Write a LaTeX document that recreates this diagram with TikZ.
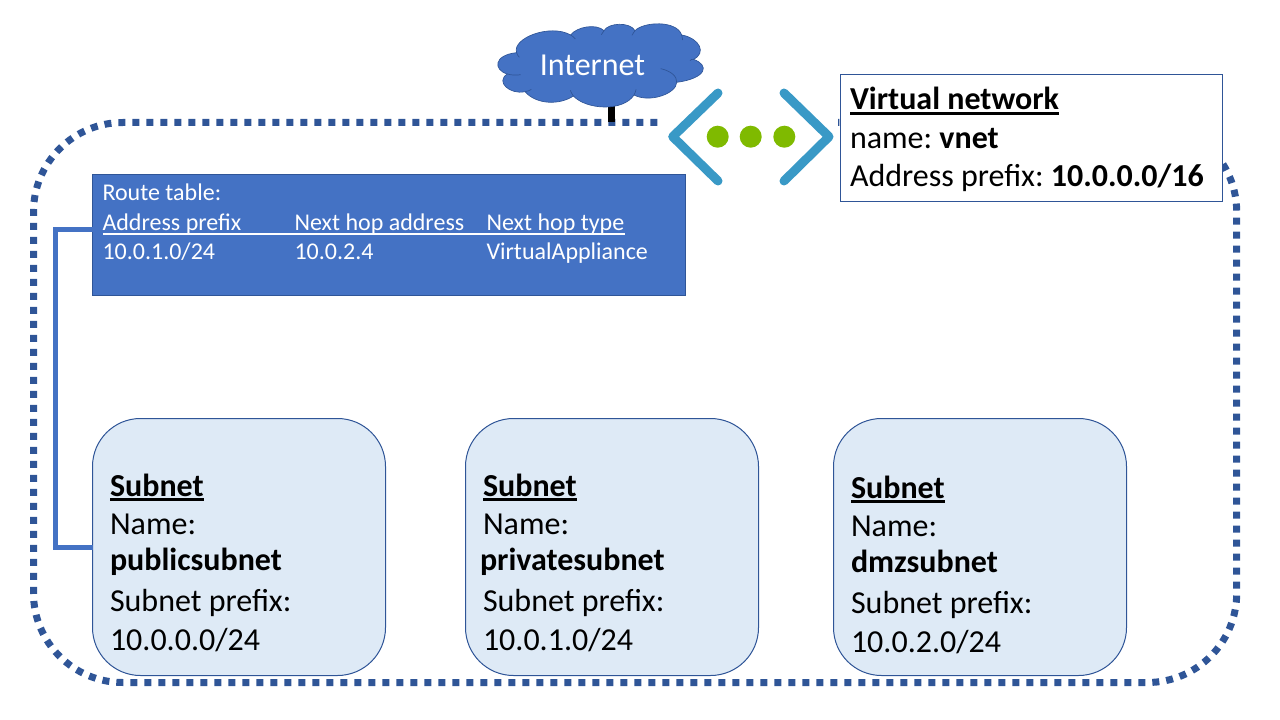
\documentclass[tikz,border=0pt]{standalone}
\usepackage{fontspec}
\setmainfont{Carlito}
\frenchspacing
\definecolor{bluefill}{HTML}{4472C4}
\definecolor{darkblue}{HTML}{2F5597}
\definecolor{subfill}{HTML}{DEEAF6}
\definecolor{iconblue}{HTML}{3999C6}
\definecolor{icongreen}{HTML}{7FBA00}
\newcommand{\ulbox}[1]{\setbox0=\hbox{#1}\rlap{\rule[-3.4pt]{\wd0}{1.6pt}}\box0}
\tikzset{
  every node/.append style={outer sep=0pt},
  big/.style={font=\fontsize{24}{28}\selectfont, anchor=base west, inner sep=0pt, text=black},
  small/.style={font=\fontsize{18}{22}\selectfont, anchor=base west, inner sep=0pt, text=white},
  subnetbox/.style={draw=darkblue, line width=0.75pt, fill=subfill, rounded corners=36pt, minimum width=219.75pt, minimum height=192.75pt, anchor=north west, inner sep=0pt},
  vnetdots/.style={draw=darkblue, line width=5.25pt, dash pattern=on 5.25pt off 5.25pt, rounded corners=67pt, minimum width=902.4pt, minimum height=420pt, anchor=north west, inner sep=0pt},
  linkline/.style={draw=bluefill, line width=3.75pt},
  chevron/.style={draw=iconblue, line width=6.75pt, line cap=round, line join=round},
  icondot/.style={circle, fill=icongreen, minimum size=16.5pt, inner sep=0pt},
  cloudarc/.style={draw=darkblue, line width=0.5pt},
}
\begin{document}
\begin{tikzpicture}[x=0.75pt,y=-0.75pt]
\useasboundingbox (0,0) rectangle (1280,720);
% dotted virtual network boundary
\node[vnetdots] (vnetarea) at (33.5,122.5) {};

% link from cloud
\coordinate (cloudfoot) at (611.3,100);
\draw[line width=5pt,black] (cloudfoot) -- (cloudfoot |- vnetarea.north);

% cloud
\begin{scope}[shift={(480,10)},x=0.25pt,y=-0.25pt]
\path[fill=bluefill,draw=darkblue,line width=0.5pt]
 (110,128) .. controls (95,85) and (210,40) .. (272,75)
 .. controls (290,50) and (350,40) .. (372,62)
 .. controls (385,38) and (450,35) .. (465,62)
 .. controls (490,35) and (590,30) .. (605,75)
 .. controls (660,85) and (680,130) .. (640,148)
 .. controls (690,165) and (680,205) .. (590,217)
 .. controls (590,250) and (510,280) .. (462,255)
 .. controls (430,305) and (320,300) .. (280,258)
 .. controls (240,285) and (170,285) .. (135,245)
 .. controls (90,255) and (45,215) .. (82,192)
 .. controls (40,180) and (40,135) .. (110,128) -- cycle;
\draw[cloudarc] (82,192) .. controls (95,196) and (110,196) .. (122,194);
\draw[cloudarc] (135,245) .. controls (142,244) and (148,242) .. (154,238);
\draw[cloudarc] (280,258) .. controls (276,252) and (273,247) .. (271,241);
\draw[cloudarc] (462,255) .. controls (465,250) and (467,245) .. (468,238);
\draw[cloudarc] (542,176) .. controls (570,182) and (592,198) .. (590,217);
\draw[cloudarc] (640,148) .. controls (636,146) and (632,150) .. (630,152);
\draw[cloudarc] (605,75) .. controls (607,80) and (608,85) .. (608,90);
\draw[cloudarc] (465,62) .. controls (462,67) and (458,71) .. (456,76);
\draw[cloudarc] (372,62) .. controls (369,66) and (366,70) .. (364,74);
\draw[cloudarc] (272,75) .. controls (277,78) and (282,82) .. (286,87);
\draw[cloudarc] (110,128) .. controls (111,133) and (114,138) .. (118,142);
\end{scope}
\node[font=\fontsize{24}{28}\selectfont, text=white, inner sep=0pt, anchor=base] (internet) at (592.5,75.5) {Internet};

% network icon
\fill[white] (664,105) rectangle (838,190);
\draw[chevron] (718,93) -- (672.7,136.7) -- (718,181);
\draw[chevron] (784,93) -- (829,136.7) -- (784,181);
\node[icondot] (dota) at (717.7,136.7) {};
\node[icondot] (dotb) at (750.7,136.7) {};
\node[icondot] (dotc) at (784.3,136.7) {};

% virtual network box
\node[draw=darkblue, line width=0.75pt, fill=white, minimum width=286.5pt, minimum height=95.25pt, anchor=north west, inner sep=0pt] (vnetbox) at (840.5,74.5) {};
\node[big] (vn1) at (850,110) {\ulbox{\textbf{Virtual network}}};
\node[big] (vn2) at (850,149) {name: \textbf{vnet}};
\node[big] (vn3) at (850,187) {Address prefix: \textbf{10.0.0.0/16}};

% route table
\node[draw=darkblue, line width=0.75pt, fill=bluefill, minimum width=444.75pt, minimum height=90.75pt, anchor=north west, inner sep=0pt] (route) at (92.5,174.5) {};
\node[small] (rt0) at (102.5,201) {Route table:};
\node[small] (rt1) at (102.5,230) {Address prefix};
\node[small] (rt2) at (294.5,230) {Next hop address};
\node[small] (rt3) at (486.5,230) {Next hop type};
\node[small] (rt4) at (102.5,259) {10.0.1.0/24};
\node[small] (rt5) at (294.5,259) {10.0.2.4};
\node[small] (rt6) at (486.5,259) {VirtualAppliance};
\coordinate (rulea) at (103,234);
\coordinate (ruleb) at (625,234);
\draw[white,line width=1.5pt] (rulea) -- (ruleb);

% subnets
\node[subnetbox] (pub) at (92.5,418.5) {};
\node[subnetbox] (priv) at (465.5,418.5) {};
\node[subnetbox] (dmz) at (833.5,418.5) {};

\node[big] (a1) at (110,496) {\ulbox{\textbf{Subnet}}};
\node[big] (a2) at (110,534) {Name:};
\node[big] (a3) at (110,570) {\textbf{publicsubnet}};
\node[big] (a4) at (110,611) {Subnet prefix:};
\node[big] (a5) at (110,650) {10.0.0.0/24};

\node[big] (b1) at (483,496) {\ulbox{\textbf{Subnet}}};
\node[big] (b2) at (483,534) {Name:};
\node[big] (b3) at (480,570) {\textbf{privatesubnet}};
\node[big] (b4) at (483,611) {Subnet prefix:};
\node[big] (b5) at (483,650) {10.0.1.0/24};

\node[big] (c1) at (851,498) {\ulbox{\textbf{Subnet}}};
\node[big] (c2) at (851,536) {Name:};
\node[big] (c3) at (851,572) {\textbf{dmzsubnet}};
\node[big] (c4) at (851,613) {Subnet prefix:};
\node[big] (c5) at (851,652) {10.0.2.0/24};

% route table link
\coordinate (elbowa) at (55,230);
\coordinate (elbowb) at (55,547);
\draw[linkline] (route.west |- elbowa) -- (elbowa) -- (elbowb) -- (pub.west |- elbowb);
\end{tikzpicture}
\end{document}
